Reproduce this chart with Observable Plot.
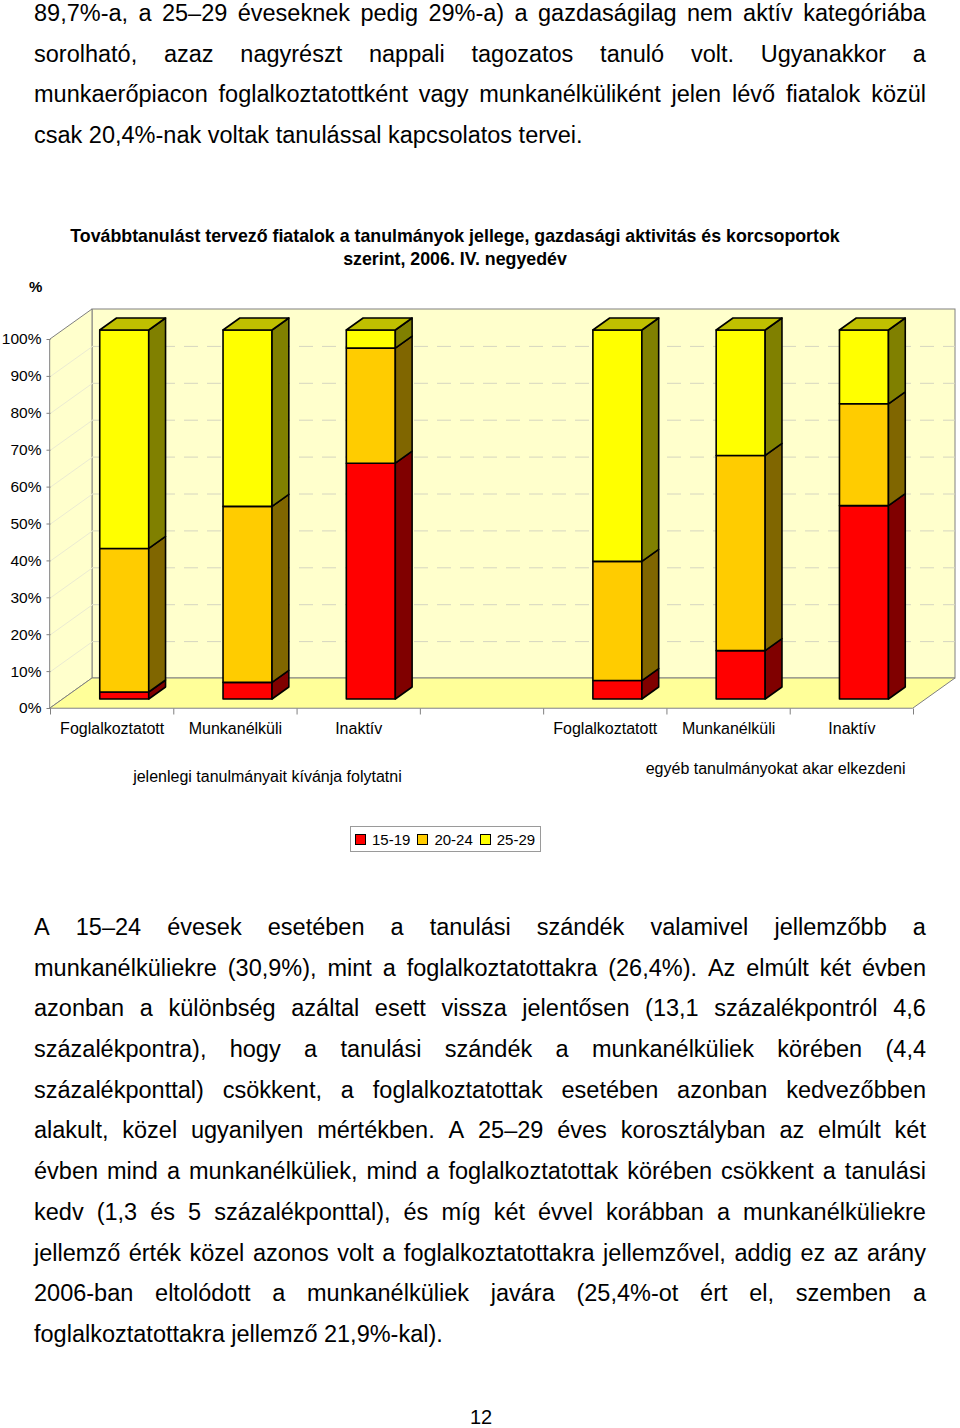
<!DOCTYPE html>
<html>
<head>
<meta charset="utf-8">
<script src="https://cdn.jsdelivr.net/npm/d3@7"></script>
<script src="https://cdn.jsdelivr.net/npm/@observablehq/plot@0.6"></script>
<style>
html,body{margin:0;padding:0;background:#fff;}
body{width:960px;height:1428px;overflow:hidden;position:relative;font-family:"Liberation Sans",Arial,sans-serif;color:#000;}
.para{position:absolute;left:34px;width:892px;font-size:23.5px;line-height:40.7px;}
.line{height:40.7px;white-space:nowrap;}
.line.j{display:flex;justify-content:space-between;}
.title{position:absolute;left:0;width:910px;top:225px;text-align:center;font-weight:bold;font-size:17.8px;line-height:23px;white-space:nowrap;}
.pct{position:absolute;left:29px;top:278px;font-weight:bold;font-size:15px;line-height:18px;}
#chart{position:absolute;left:0;top:300px;}
.legend{position:absolute;left:350px;top:826px;width:191px;height:26px;border:1px solid #9a9a9a;box-sizing:border-box;display:flex;align-items:center;font-size:15px;padding-left:4px;white-space:nowrap;}
.legend .sw{width:9px;height:9px;border:1px solid #000;margin-right:6px;flex:none;}
.legend .it{display:flex;align-items:center;margin-right:7px;white-space:nowrap;flex:none;}
.page{position:absolute;left:0;width:962px;top:1405px;text-align:center;font-size:20px;line-height:24px;}
</style>
</head>
<body>
<div class="para" id="top" style="top:-7px"></div>
<div class="title">Továbbtanulást tervező fiatalok a tanulmányok jellege, gazdasági aktivitás és korcsoportok<br>szerint, 2006. IV. negyedév</div>
<div class="pct">%</div>
<div id="chart"></div>
<div class="legend" id="legend"></div>
<div class="para" id="bottom" style="top:907px"></div>
<div class="page">12</div>
<script>
// ---- data ----
const groups = ["jelenlegi tanulmányait kívánja folytatni", "egyéb tanulmányokat akar elkezdeni"];
const statuses = ["Foglalkoztatott", "Munkanélküli", "Inaktív"];
const ageGroups = ["15-19", "20-24", "25-29"];
// order: group1 (Fogl., Munk., Inakt.), group2 (Fogl., Munk., Inakt.)
const v1519 = [1.9, 4.5, 63.9, 5.0, 13.1, 52.4];
const v2024 = [38.9, 47.7, 31.2, 32.3, 52.9, 27.6];
const v2529 = [59.2, 47.8, 4.9, 62.7, 34.0, 20.0];
const yTicks = [0, 10, 20, 30, 40, 50, 60, 70, 80, 90, 100];

const topLines = [
  "89,7%-a, a 25–29 éveseknek pedig 29%-a) a gazdaságilag nem aktív kategóriába",
  "sorolható, azaz nagyrészt nappali tagozatos tanuló volt. Ugyanakkor a",
  "munkaerőpiacon foglalkoztatottként vagy munkanélküliként jelen lévő fiatalok közül",
  "csak 20,4%-nak voltak tanulással kapcsolatos tervei."
];
const bottomLines = [
  "A 15–24 évesek esetében a tanulási szándék valamivel jellemzőbb a",
  "munkanélküliekre (30,9%), mint a foglalkoztatottakra (26,4%). Az elmúlt két évben",
  "azonban a különbség azáltal esett vissza jelentősen (13,1 százalékpontról 4,6",
  "százalékpontra), hogy a tanulási szándék a munkanélküliek körében (4,4",
  "százalékponttal) csökkent, a foglalkoztatottak esetében azonban kedvezőbben",
  "alakult, közel ugyanilyen mértékben. A 25–29 éves korosztályban az elmúlt két",
  "évben mind a munkanélküliek, mind a foglalkoztatottak körében csökkent a tanulási",
  "kedv (1,3 és 5 százalékponttal), és míg két évvel korábban a munkanélküliekre",
  "jellemző érték közel azonos volt a foglalkoztatottakra jellemzővel, addig ez az arány",
  "2006-ban eltolódott a munkanélküliek javára (25,4%-ot ért el, szemben a",
  "foglalkoztatottakra jellemző 21,9%-kal)."
];

// ---- colours ----
const front = {"15-19": "#ff0000", "20-24": "#ffcc00", "25-29": "#ffff00"};
const side = {"15-19": "#800000", "20-24": "#806600", "25-29": "#808000"};
const topFace = {"15-19": "#c00000", "20-24": "#c09900", "25-29": "#c0c000"};

// ---- text paragraphs ----
function fillPara(el, lines) {
  lines.forEach((ln, i) => {
    const d = document.createElement("div");
    const last = i === lines.length - 1;
    d.className = "line" + (last ? "" : " j");
    if (last) d.textContent = ln;
    else ln.split(" ").forEach(w => { const s = document.createElement("span"); s.textContent = w; d.appendChild(s); });
    el.appendChild(d);
  });
}
fillPara(document.getElementById("top"), topLines);
fillPara(document.getElementById("bottom"), bottomLines);

// ---- legend ----
const lg = document.getElementById("legend");
ageGroups.forEach(a => {
  const it = document.createElement("div"); it.className = "it";
  const sw = document.createElement("div"); sw.className = "sw"; sw.style.background = front[a];
  const t = document.createElement("span"); t.textContent = a;
  it.appendChild(sw); it.appendChild(t); lg.appendChild(it);
});

// ---- geometry (scale units) ----
const xRange = [50, 913], yRange = [408, 39];
const kx = (xRange[1] - xRange[0]) / 7;     // px per slot
const ky = (yRange[0] - yRange[1]) / 100;   // px per percent
const DX = 42 / kx, DY = 30 / ky;           // depth of the 3-D box
const f0 = 0.3, f1 = 0.7;                    // bar depth position
const hw = 24.5 / kx;                        // half bar width

const bars = [];
groups.forEach((g, gi) => statuses.forEach((s, si) => {
  const i = gi * 3 + si;
  bars.push({group: g, status: s, slot: gi * 4 + si, vals: [v1519[i], v2024[i], v2529[i]]});
}));
const segs = [];
bars.forEach((b, bi) => {
  let acc = 0;
  b.vals.forEach((v, k) => {
    segs.push({id: bi + "-" + k, bar: bi, age: ageGroups[k], slot: b.slot, y0: acc, y1: acc + v, top: k === 2});
    acc += v;
  });
});
const L = d => d.slot + 0.5 - hw + f0 * DX;
const R = d => d.slot + 0.5 + hw + f0 * DX;
const sidePts = segs.flatMap(d => [
  {id: d.id, c: side[d.age], x: R(d), y1: d.y0 + f0 * DY, y2: d.y1 + f0 * DY},
  {id: d.id, c: side[d.age], x: R(d) + (f1 - f0) * DX, y1: d.y0 + f1 * DY, y2: d.y1 + f1 * DY}
]);
const topPts = segs.filter(d => d.top).flatMap(d => [
  {id: d.id, c: topFace[d.age], y: d.y1 + f0 * DY, x1: L(d), x2: R(d)},
  {id: d.id, c: topFace[d.age], y: d.y1 + f1 * DY, x1: L(d) + (f1 - f0) * DX, x2: R(d) + (f1 - f0) * DX}
]);

const grid = "#808080";
const chart = Plot.plot({
  width: 960, height: 560,
  marginLeft: 0, marginRight: 0, marginTop: 0, marginBottom: 0,
  x: {type: "linear", domain: [0, 7], range: xRange, axis: null},
  y: {type: "linear", domain: [0, 100], range: yRange, axis: null},
  color: {type: "identity"},
  style: {fontFamily: "'Liberation Sans', Arial, sans-serif", fontSize: "15px", color: "#000", background: "transparent"},
  marks: [
    // back wall
    Plot.rect([0], {x1: DX, x2: 7 + DX, y1: DY, y2: 100 + DY, fill: "#ffffcc", stroke: grid, strokeWidth: 1}),
    // left wall
    Plot.areaY([{x: 0, y1: 0, y2: 100}, {x: DX, y1: DY, y2: 100 + DY}], {x: "x", y1: "y1", y2: "y2", fill: "#ffffcc", stroke: grid, strokeWidth: 1}),
    // floor
    Plot.areaX([{y: 0, x1: 0, x2: 7}, {y: DY, x1: DX, x2: 7 + DX}], {y: "y", x1: "x1", x2: "x2", fill: "#ffff99", stroke: grid, strokeWidth: 1}),
    // grid on back wall
    Plot.ruleY(yTicks.filter(t => t > 0 && t < 100), {y: d => d + DY, x1: DX, x2: 7 + DX, stroke: "#d6d6c0", strokeDasharray: "14,9", strokeWidth: 1}),
    // grid on left wall
    Plot.link(yTicks.filter(t => t > 0 && t < 100), {x1: 0, y1: d => d, x2: DX, y2: d => d + DY, stroke: "#ebebd2", strokeWidth: 1}),
    // y ticks + labels
    Plot.link(yTicks, {x1: -4 / kx, x2: 0, y1: d => d, y2: d => d, stroke: grid}),
    Plot.text(yTicks, {x: 0, y: d => d, text: d => d + "%", textAnchor: "end", dx: -9, fontSize: 15.5, fill: "#000"}),
    // x separators
    Plot.link([0, 1, 2, 3, 4, 5, 6, 7], {x1: d => d, x2: d => d, y1: 0, y2: -6 / ky, stroke: grid}),
    // bars: front faces
    Plot.rect(segs, {x1: L, x2: R, y1: d => d.y0 + f0 * DY, y2: d => d.y1 + f0 * DY, fill: d => front[d.age], stroke: "#000", strokeWidth: 1.6, strokeLinejoin: "round"}),
    // side faces
    Plot.areaY(sidePts, {x: "x", y1: "y1", y2: "y2", z: "id", fill: "c", stroke: "#000", strokeWidth: 1.6, strokeLinejoin: "round"}),
    // top faces
    Plot.areaX(topPts, {y: "y", x1: "x1", x2: "x2", z: "id", fill: "c", stroke: "#000", strokeWidth: 1.6, strokeLinejoin: "round"}),
    // category labels
    Plot.text(bars, {x: d => d.slot + 0.5, y: 0, dy: 20, text: "status", fontSize: 16, fill: "#000"}),
    // group labels
    Plot.text([groups[0]], {x: 1.5, y: 0, dx: 32, dy: 68, text: d => d, fontSize: 16, fill: "#000"}),
    Plot.text([groups[1]], {x: 5.5, y: 0, dx: 47, dy: 60, text: d => d, fontSize: 16, fill: "#000"})
  ]
});
document.getElementById("chart").appendChild(chart);
</script>
</body>
</html>
